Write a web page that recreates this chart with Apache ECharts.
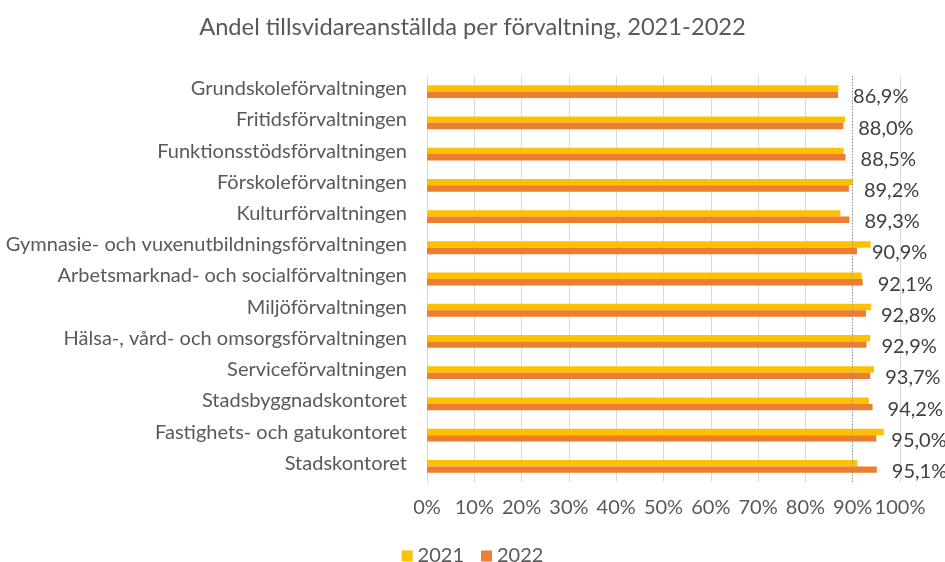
<!DOCTYPE html>
<html>
<head>
<meta charset="utf-8">
<script src="https://cdn.jsdelivr.net/npm/echarts@6/dist/echarts.min.js"></script>
<style>
  html, body { margin: 0; padding: 0; background: #fff; }
  #chart { width: 945px; height: 562px; }
</style>
</head>
<body>
<div id="chart"></div>
<script>
const titleText = 'Andel tillsvidareanställda per förvaltning, 2021-2022';
const categories = [
  'Grundskoleförvaltningen',
  'Fritidsförvaltningen',
  'Funktionsstödsförvaltningen',
  'Förskoleförvaltningen',
  'Kulturförvaltningen',
  'Gymnasie- och vuxenutbildningsförvaltningen',
  'Arbetsmarknad- och socialförvaltningen',
  'Miljöförvaltningen',
  'Hälsa-, vård- och omsorgsförvaltningen',
  'Serviceförvaltningen',
  'Stadsbyggnadskontoret',
  'Fastighets- och gatukontoret',
  'Stadskontoret'
];
const seriesNames = ['2021', '2022'];
const values2021 = [87.0, 88.4, 88.1, 90.0, 87.4, 93.8, 91.9, 93.9, 93.7, 94.5, 93.4, 96.6, 91.0];
const values2022 = [86.9, 88.0, 88.5, 89.2, 89.3, 90.9, 92.1, 92.8, 92.9, 93.7, 94.2, 95.0, 95.1];
const axisMin = 0, axisMax = 100, axisStep = 10;
const referenceLine = 90;

const FONT = 'Lato';
const TEXT = '#595959';

const fmtPct = v => v.toFixed(1).replace('.', ',') + '%';

const chart = echarts.init(document.getElementById('chart'));
chart.setOption({
  animation: false,
  backgroundColor: '#ffffff',
  textStyle: { fontFamily: FONT },
  title: {
    text: titleText,
    left: 'center',
    top: 10,
    textStyle: { fontFamily: FONT, fontSize: 23.7, fontWeight: 'normal', color: TEXT }
  },
  legend: {
    data: seriesNames,
    top: 541,
    left: 'center',
    icon: 'rect',
    itemWidth: 11,
    itemHeight: 11,
    itemGap: 17,
    textStyle: { fontFamily: FONT, fontSize: 20, color: TEXT }
  },
  grid: { left: 427, right: 45, top: 76, height: 406, containLabel: false },
  xAxis: {
    type: 'value',
    min: axisMin,
    max: axisMax,
    interval: axisStep,
    axisLine: { show: false },
    axisTick: { show: false },
    splitLine: { show: true, lineStyle: { color: '#d9d9d9', width: 1 } },
    axisLabel: {
      formatter: '{value}%',
      margin: 16,
      fontFamily: FONT,
      fontSize: 20,
      color: TEXT
    }
  },
  yAxis: {
    type: 'category',
    data: categories,
    inverse: true,
    axisLine: { show: true, lineStyle: { color: '#d9d9d9', width: 1 } },
    axisTick: { show: false },
    axisLabel: {
      margin: 20,
      formatter: v => '{c|' + v + '}',
      rich: {
        c: {
          fontFamily: FONT,
          fontSize: 20,
          color: TEXT,
          padding: [0, 0, 6, 0]
        }
      }
    }
  },
  series: [
    {
      name: seriesNames[0],
      type: 'bar',
      data: values2021,
      barGap: '0%',
      barCategoryGap: '59%',
      itemStyle: { color: '#FFC000' },
      markLine: {
        silent: true,
        symbol: 'none',
        label: { show: false },
        lineStyle: { color: '#8c8c8c', type: [1, 2], width: 1 },
        data: [{ xAxis: referenceLine }]
      }
    },
    {
      name: seriesNames[1],
      type: 'bar',
      data: values2022,
      barGap: '0%',
      barCategoryGap: '59%',
      itemStyle: { color: '#ED7D31' },
      label: {
        show: true,
        position: 'right',
        distance: 15,
        offset: [0, 2],
        formatter: p => fmtPct(p.value),
        fontFamily: FONT,
        fontSize: 20,
        color: '#404040'
      }
    }
  ]
});
</script>
</body>
</html>
